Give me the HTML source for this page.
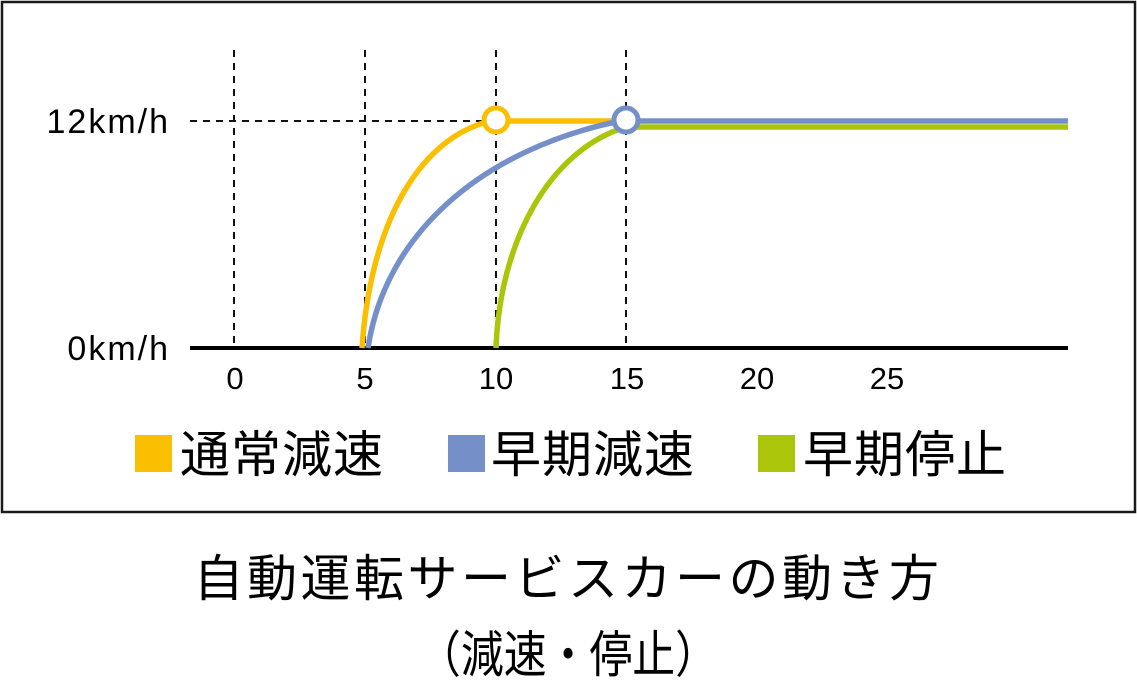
<!DOCTYPE html>
<html><head><meta charset="utf-8"><style>
body{margin:0;background:#fff;}
svg{display:block;font-family:"Liberation Sans","Noto Sans CJK JP",sans-serif;}
</style></head><body>
<svg width="1137" height="699" viewBox="0 0 1137 699">
<rect x="2" y="2" width="1133" height="510" fill="#fff" stroke="#1a1a1a" stroke-width="2.5"/>
<g stroke="#111" stroke-width="2" stroke-dasharray="7,6">
<line x1="234" y1="50" x2="234" y2="348"/>
<line x1="365" y1="50" x2="365" y2="348"/>
<line x1="496" y1="50" x2="496" y2="348"/>
<line x1="626" y1="50" x2="626" y2="348"/>
<line x1="190" y1="121" x2="496" y2="121"/>
</g>
<line x1="190" y1="348" x2="1068" y2="348" stroke="#000" stroke-width="4"/>
<g fill="none" stroke-width="5.5">
<path d="M496,348 C500,240 550,150 626,127 L1068,127" stroke="#abc60a"/>
<path d="M362,348 C370,230 415,140 490,121 L626,121" stroke="#f9bf00"/>
<path d="M368,348 C385,235 480,150 620,121 L1068,121" stroke="#7590c9"/>
</g>
<circle cx="496" cy="120" r="12" fill="#fff" stroke="#f9bf00" stroke-width="5"/>
<circle cx="626" cy="120" r="12" fill="#fff" stroke="#7590c9" stroke-width="5"/>
<g font-size="34" fill="#000" letter-spacing="2">
<text x="170" y="133" text-anchor="end">12km/h</text>
<text x="170" y="360" text-anchor="end">0km/h</text>
</g>
<g font-size="31" fill="#000" text-anchor="middle">
<text x="235" y="389">0</text><text x="365" y="389">5</text><text x="496" y="389">10</text>
<text x="627" y="389">15</text><text x="757" y="389">20</text><text x="887" y="389">25</text>
</g>
<rect x="135" y="435" width="37" height="37" fill="#f9bf00"/>
<rect x="448" y="435" width="37" height="37" fill="#7590c9"/>
<rect x="758" y="435" width="37" height="37" fill="#abc60a"/>
<g font-size="50" fill="#000" letter-spacing="1">
<text x="180" y="472">通常減速</text>
<text x="491" y="472">早期減速</text>
<text x="803" y="472">早期停止</text>
</g>
<g font-size="50" fill="#000">
<text x="568" y="596" text-anchor="middle" letter-spacing="3.5">自動運転サービスカーの動き方</text>
<text x="418" y="672" textLength="300" lengthAdjust="spacingAndGlyphs">（減速・停止）</text>
</g>
</svg>
</body></html>
